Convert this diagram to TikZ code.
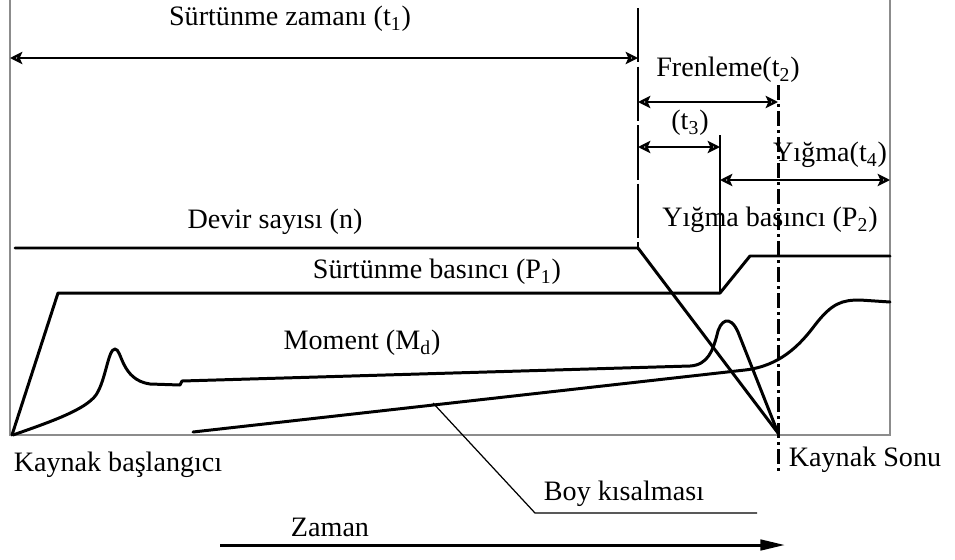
\documentclass[tikz,border=0pt]{standalone}
\usepackage{fontspec}
\setmainfont{Liberation Serif}
\usepackage{tikz}
\usetikzlibrary{arrows.meta}
\usepackage{xcolor}
\definecolor{framegray}{RGB}{140,140,140}
\tikzset{
  frame/.style={framegray,line width=0.6pt},
  curve/.style={line width=1.7pt,line join=round,line cap=round},
  span/.style={{Stealth[open,length=7pt,width=7pt,inset=1.5pt]}-{Stealth[open,length=7pt,width=7pt,inset=1.5pt]},
               line width=1.6pt},
  phase/.style={line width=1.1pt},
  endline/.style={line width=1.7pt,dash pattern=on 8.5pt off 2.3pt on 1.7pt off 2.3pt},
  leader/.style={line width=0.7pt},
  timeaxis/.style={-{Triangle[length=14pt,width=6pt]},line width=1.7pt},
  lbl/.style={font=\fontsize{16}{19}\selectfont,inner sep=0pt},
}

\begin{document}
\begin{tikzpicture}[x=0.2mm,y=-0.2mm]
  \useasboundingbox (0,0) rectangle (955,559);

  % frame and phase limits
  \coordinate (tl) at (10,0);
  \coordinate (bl) at (10,435);
  \coordinate (br) at (890,435);
  \coordinate (tr) at (890,0);
  \draw[frame] (tl) -- (bl) -- (br) -- (tr);

  \coordinate (brakeT) at (638,8);
  \coordinate (brakeB) at (638,250);
  \coordinate (upsetT) at (720,135);
  \coordinate (upsetB) at (720,293);
  \coordinate (endT) at (778,85);
  \coordinate (endB) at (778,472);
  \draw[phase,dash pattern=on 31pt off 2.3pt] (brakeT) -- (brakeB);
  \draw[phase] (upsetT) -- (upsetB);
  \draw[endline] (endT) -- (endB);

  % time spans
  \foreach \nm/\xa/\xb/\y in {t1/10/638/58, t2/638/778/102, t3/638/720/147, t4/720/890/180}{
    \coordinate (\nm a) at (\xa,\y);
    \coordinate (\nm b) at (\xb,\y);
    \draw[span] (\nm a) -- (\nm b);
  }

  \node[lbl] (t1lbl) at (290,19) {Sürtünme zamanı (t\textsubscript{1})};
  \node[lbl] (t2lbl) at (728,70) {Frenleme(t\textsubscript{2})};
  \node[lbl] (t3lbl) at (690,123) {(t\textsubscript{3})};
  \node[lbl] (t4lbl) at (830,155) {Yığma(t\textsubscript{4})};

  % curves
  \draw[curve] (15,248) -- (638,248) -- (778,433);
  \draw[curve] (12,435) -- (58,293) -- (720,293) -- (750,256) -- (890,256);
  \draw[curve] (13,435) .. controls (50,422) and (85,410) .. (96,395)
    .. controls (106,380) and (108,349) .. (115,349)
    .. controls (122,349) and (121,380) .. (150,384) -- (180,385) -- (182,381)
    -- (690,366) .. controls (708,365) and (713,350) .. (717,335)
    .. controls (720,320) and (730,314) .. (738,332) -- (778,433);
  \coordinate (boyPt) at (433,403);
  \draw[curve] (193,432) -- (745,370) .. controls (780,366) and (800,345) .. (815,325)
    .. controls (832,303) and (842,300) .. (860,300) -- (890,302);

  \node[lbl] (nlbl) at (275,222) {Devir sayısı (n)};
  \node[lbl] (p2lbl) at (770,220) {Yığma basıncı (P\textsubscript{2})};
  \node[lbl] (p1lbl) at (437,272) {Sürtünme basıncı (P\textsubscript{1})};
  \node[lbl] (mlbl) at (362,343) {Moment (M\textsubscript{d})};

  % bottom texts
  \node[lbl] (startlbl) at (118,465) {Kaynak başlangıcı};
  \node[lbl] (endlbl) at (865,460) {Kaynak Sonu};
  \node[lbl] (boylbl) at (624,494) {Boy kısalması};
  \coordinate (leadA) at (535,513);
  \coordinate (leadB) at (757,513);
  \draw[leader] (boyPt) -- (leadA) -- (leadB);

  \node[lbl] (timelbl) at (330,527) {Zaman};
  \coordinate (timeA) at (220,545);
  \coordinate (timeB) at (785,545);
  \draw[timeaxis] (timeA) -- (timeB);
\end{tikzpicture}
\end{document}
